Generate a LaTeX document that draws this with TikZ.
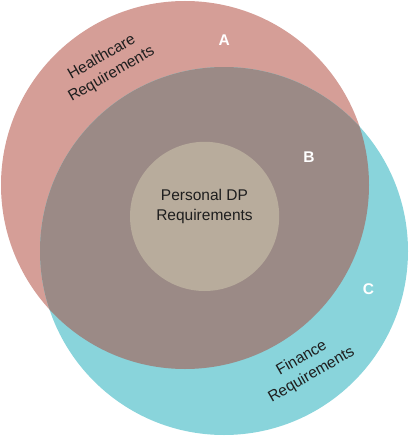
\documentclass[tikz,border=0pt]{standalone}
\usepackage{fontspec}
\setmainfont{Liberation Sans}
\definecolor{pinkc}{RGB}{213,158,151}
\definecolor{bluec}{RGB}{137,212,219}
\definecolor{grayc}{RGB}{155,138,134}
\definecolor{innerc}{RGB}{184,172,156}
\definecolor{txtc}{RGB}{30,30,30}
\begin{document}
\begin{tikzpicture}[x=1pt,y=-1pt,
  lbl/.style={font=\fontsize{15.5}{19.5}\selectfont, text=txtc, align=center, inner sep=0pt},
  letter/.style={font=\fontsize{15.5}{19.5}\selectfont\bfseries, text=white, inner sep=0pt}]
\useasboundingbox (0,0) rectangle (409,436);
% Healthcare and Finance sets
\fill[pinkc] (185,185) circle[radius=184pt];
\fill[bluec] (224,251) circle[radius=184pt];
% overlap of the two sets
\begin{scope}
  \clip (185,185) circle[radius=184pt];
  \fill[grayc] (224,251) circle[radius=184pt];
\end{scope}
% Personal DP set
\fill[innerc] (204.6,216.4) circle[radius=74.6pt];
% labels
\node[lbl, rotate=30] (hc) at (106.7,65.9) {Healthcare\\Requirements};
\node[lbl, rotate=30] (fin) at (306.7,366.7) {Finance\\Requirements};
\node[lbl] (pdp) at (204.5,206.5) {Personal DP\\Requirements};
\node[letter] (a) at (224.2,40) {A};
\node[letter] (b) at (309,157.2) {B};
\node[letter] (c) at (368.5,289.3) {C};
\end{tikzpicture}
\end{document}
